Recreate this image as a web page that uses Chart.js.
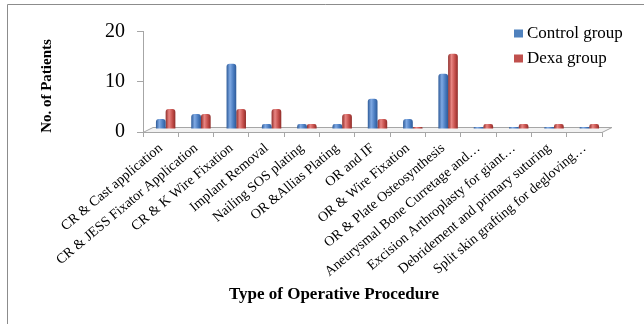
<!DOCTYPE html>
<html>
<head>
<meta charset="utf-8">
<script src="https://cdn.jsdelivr.net/npm/chart.js@4.4.1/dist/chart.umd.min.js"></script>
<style>
  html, body { margin: 0; padding: 0; background: #fff; }
  #wrap { width: 644px; height: 324px; position: relative; }
</style>
</head>
<body>
<div id="wrap"><canvas id="c" width="644" height="324"></canvas></div>
<script>
// Operative procedures and patient counts per group
const procedures = [
  'CR & Cast application',
  'CR & JESS Fixator Application',
  'CR & K Wire Fixation',
  'Implant Removal',
  'Nailing SOS plating',
  'OR &Allias Plating',
  'OR and IF',
  'OR & Wire Fixation',
  'OR & Plate Osteosynthesis',
  'Aneurysmal Bone Curretage and…',
  'Excision Arthroplasty for giant…',
  'Debridement and primary suturing',
  'Split skin grafting for degloving…'
];
const controlGroup = [2, 3, 13, 1, 1, 1, 6, 2, 11, 0, 0, 0, 0];
const dexaGroup    = [4, 3, 4, 4, 1, 3, 2, 0, 15, 1, 1, 1, 1];
const yTicks = [0, 10, 20];

const SERIF = '"Liberation Serif", "Times New Roman", serif';
const AXIS_GREY = '#a6a6a6';
const CAT_PCT = 0.55;
const DEPTH = { x: 5, y: -3 };       // bar offset into the floor
const FLOOR = { x: 10, y: -5 };      // floor depth

// Horizontal gradient so each bar reads as a cylinder
function cylinderFill(base, light, dark, dsIndex) {
  return (ctx) => {
    const chart = ctx.chart;
    const xs = chart.scales && chart.scales.x;
    if (!xs || ctx.type !== 'data') return base;
    const n = chart.data.labels.length;
    const catW = (xs.right - xs.left) / n;
    const groupW = catW * CAT_PCT;
    const center = xs.getPixelForValue(ctx.dataIndex);
    const left = center - groupW / 2 + dsIndex * groupW / 2;
    const right = left + groupW / 2;
    if (!isFinite(left) || !isFinite(right) || right - left < 1) return base;
    const g = chart.ctx.createLinearGradient(left, 0, right, 0);
    g.addColorStop(0, dark);
    g.addColorStop(0.35, light);
    g.addColorStop(0.7, base);
    g.addColorStop(1, dark);
    return g;
  };
}

const decorPlugin = {
  id: 'decor',
  beforeDraw(chart) {
    const c = chart.ctx;
    c.save();
    c.strokeStyle = '#8c8c8c';
    c.lineWidth = 1;
    c.beginPath();
    c.moveTo(7.5, 324);
    c.lineTo(7.5, 4.5);
    c.lineTo(644, 4.5);
    c.stroke();
    c.restore();
  },
  beforeDatasetsDraw(chart) {
    const c = chart.ctx;
    const a = chart.chartArea;
    // floor of the plot
    c.save();
    c.fillStyle = '#f2f2f2';
    c.strokeStyle = AXIS_GREY;
    c.lineWidth = 1;
    c.beginPath();
    c.moveTo(a.left, a.bottom + 0.5);
    c.lineTo(a.right, a.bottom + 0.5);
    c.lineTo(a.right + FLOOR.x, a.bottom + 0.5 + FLOOR.y);
    c.lineTo(a.left + FLOOR.x, a.bottom + 0.5 + FLOOR.y);
    c.closePath();
    c.fill();
    c.stroke();
    c.restore();
    c.save();
    c.translate(DEPTH.x, DEPTH.y);
  },
  afterDatasetsDraw(chart) {
    chart.ctx.restore();
  },
  afterDraw(chart) {
    const c = chart.ctx;
    c.save();
    c.fillStyle = '#000';
    // axis titles
    c.font = 'bold 15px ' + SERIF;
    c.textAlign = 'center';
    c.textBaseline = 'middle';
    c.save();
    c.translate(47, 86);
    c.rotate(-Math.PI / 2);
    c.fillText('No. of Patients', 0, 0);
    c.restore();
    c.font = 'bold 17px ' + SERIF;
    c.fillText('Type of Operative Procedure', 334, 295);
    // legend
    c.font = '17px ' + SERIF;
    c.textAlign = 'left';
    const rows = [33.5, 58.5];
    chart.data.datasets.forEach((ds, i) => {
      c.fillStyle = ds.legendColor;
      c.fillRect(514, rows[i] - 4, 9, 8);
      c.fillStyle = '#000';
      c.fillText(ds.label, 527, rows[i]);
    });
    c.restore();
  }
};

new Chart(document.getElementById('c'), {
  type: 'bar',
  data: {
    labels: procedures,
    datasets: [
      {
        label: 'Control group',
        data: controlGroup,
        legendColor: '#4f81bd',
        backgroundColor: cylinderFill('#4a7cc0', '#7fa9e3', '#2d5a98', 0),
        borderRadius: { topLeft: 3, topRight: 3 },
        borderSkipped: 'bottom',
        minBarLength: 2
      },
      {
        label: 'Dexa group',
        data: dexaGroup,
        legendColor: '#c0504d',
        backgroundColor: cylinderFill('#c44e4a', '#e88582', '#8f2c29', 1),
        borderRadius: { topLeft: 3, topRight: 3 },
        borderSkipped: 'bottom',
        minBarLength: 2
      }
    ]
  },
  options: {
    responsive: false,
    devicePixelRatio: 1,
    animation: false,
    layout: { padding: { left: 0, right: 42, top: 31.5, bottom: 0 } },
    datasets: { bar: { categoryPercentage: CAT_PCT, barPercentage: 1, clip: false } },
    plugins: {
      legend: { display: false },
      tooltip: { enabled: false }
    },
    scales: {
      x: {
        offset: true,
        afterFit(scale) { scale.height = 192; },
        grid: {
          offset: true,
          drawOnChartArea: false,
          drawTicks: true,
          tickLength: 5,
          color: AXIS_GREY
        },
        border: { display: true, color: AXIS_GREY },
        ticks: {
          autoSkip: false,
          minRotation: 40,
          maxRotation: 40,
          padding: 3,
          color: '#000',
          font: { family: SERIF, size: 14 }
        }
      },
      y: {
        min: 0,
        max: 20,
        afterFit(scale) { scale.width = 143; },
        afterBuildTicks(scale) { scale.ticks = yTicks.map(v => ({ value: v })); },
        grid: {
          drawOnChartArea: false,
          drawTicks: true,
          tickLength: 6,
          color: AXIS_GREY
        },
        border: { display: true, color: AXIS_GREY },
        ticks: {
          padding: 12,
          color: '#000',
          font: { family: SERIF, size: 20 }
        }
      }
    }
  },
  plugins: [decorPlugin]
});
</script>
</body>
</html>
